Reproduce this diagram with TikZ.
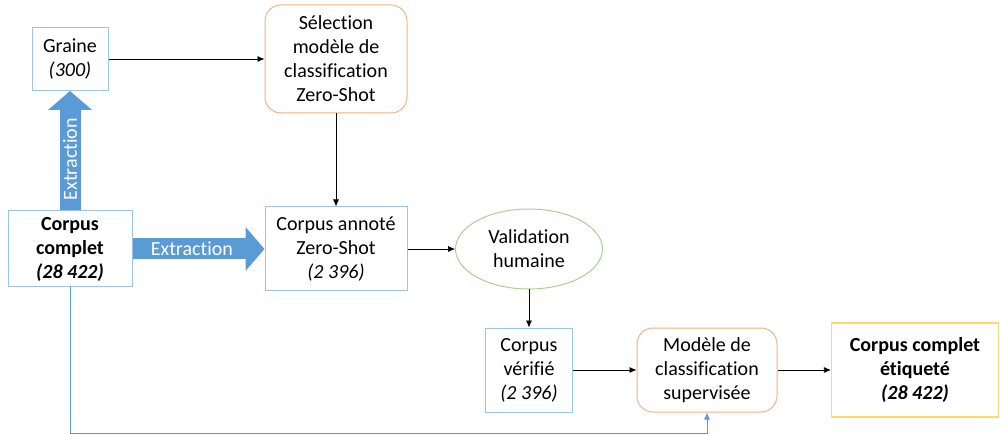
\documentclass[tikz,border=0pt]{standalone}
\usepackage{fontspec}
\setmainfont[Ligatures=NoCommon]{Carlito}
\usetikzlibrary{arrows.meta,shapes.geometric}
\definecolor{boxblue}{HTML}{9DC3E6}
\definecolor{arrowblue}{HTML}{5B9BD5}
\definecolor{boxorange}{HTML}{F4B183}
\definecolor{boxgreen}{HTML}{A9D18E}
\definecolor{boxyellow}{HTML}{FFD966}
\tikzset{
  every node/.style={font=\fontsize{20}{24}\selectfont, align=center, inner sep=0pt},
  bluebox/.style={draw=boxblue, line width=1pt, rectangle},
  orangebox/.style={draw=boxorange, line width=1pt, rectangle, rounded corners=16pt},
  greenell/.style={draw=boxgreen, line width=1pt, ellipse},
  yellowbox/.style={draw=boxyellow, line width=1.2pt, rectangle},
  conn/.style={draw=black, line width=0.7pt, -{Latex[length=7pt,width=6pt]}},
  blueconn/.style={draw=arrowblue, line width=0.8pt, -{Latex[length=7pt,width=6pt]}},
  blockarrow/.style={draw=arrowblue, line width=21pt, line cap=butt, -{Triangle[width=43pt,length=19pt]}},
  arrowtext/.style={text=white}
}
\begin{document}
\begin{tikzpicture}[x=1pt,y=-1pt]
\useasboundingbox (0,0) rectangle (1000,435);
\node[bluebox, minimum width=76pt, minimum height=63pt] (graine) at (70,59) {Graine\\\textit{(300)}};
\node[orangebox, minimum width=142pt, minimum height=108pt] (select) at (336,59) {Sélection\\modèle de\\classification\\Zero-Shot};
\node[bluebox, minimum width=124pt, minimum height=76pt] (complet) at (70,249) {\textbf{Corpus}\\\textbf{complet}\\\textbf{\textit{(28 422)}}};
\node[bluebox, minimum width=142pt, minimum height=84pt] (annote) at (336,249) {Corpus annoté\\Zero-Shot\\\textit{(2 396)}};
\node[greenell, minimum width=147pt, minimum height=80pt] (valid) at (529,249) {Validation\\humaine};
\node[bluebox, minimum width=87pt, minimum height=84pt] (verif) at (529,370) {Corpus\\vérifié\\\textit{(2 396)}};
\node[orangebox, minimum width=140pt, minimum height=84pt] (modele) at (707,370) {Modèle de\\classification\\supervisée};
\node[yellowbox, minimum width=167pt, minimum height=94pt] (etiq) at (915,370) {\textbf{Corpus complet}\\\textbf{étiqueté}\\\textbf{\textit{(28 422)}}};
\coordinate (cornerA) at (70,433);
\coordinate (cornerB) at (707,433);
% block arrows
\draw[blockarrow] (complet.north) -- (graine.south)
  node[arrowtext, pos=0.43, rotate=90] {Extraction};
\draw[blockarrow] (complet.east) -- (annote.west)
  node[arrowtext, pos=0.45] {Extraction};
% connectors
\draw[conn] (graine.east) -- (select.west);
\draw[conn] (select.south) -- (annote.north);
\draw[conn] (annote.east) -- (valid.west);
\draw[conn] (valid.south) -- (verif.north);
\draw[conn] (verif.east) -- (modele.west);
\draw[conn] (modele.east) -- (etiq.west);
\draw[blueconn] (complet.south) -- (cornerA) -- (cornerB) -- (modele.south);
\end{tikzpicture}
\end{document}
